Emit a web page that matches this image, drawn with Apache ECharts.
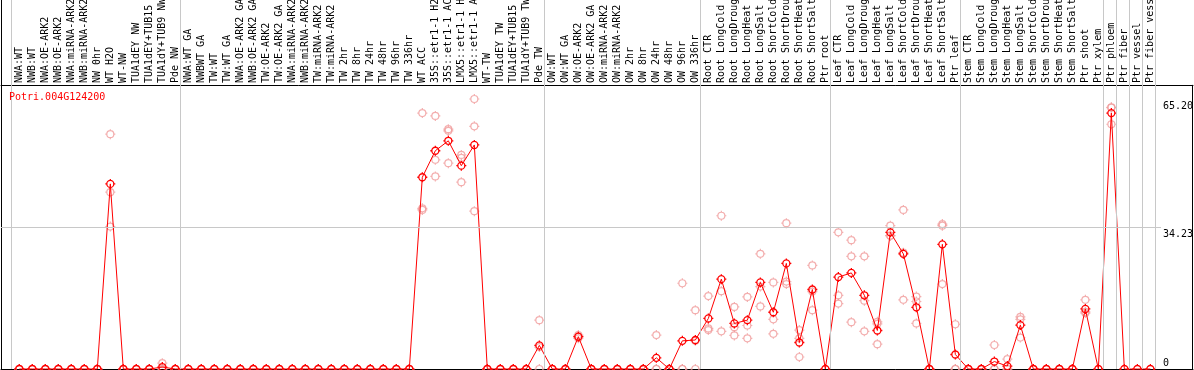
<!DOCTYPE html>
<html><head><meta charset="utf-8">
<script src="https://cdn.jsdelivr.net/npm/echarts@6/dist/echarts.min.js"></script>
<style>html,body{margin:0;padding:0;background:#fff}#c{width:1194px;height:370px}</style>
</head><body><div id="c"></div>
<script>
const geneName = 'Potri.004G124200';
const categories = [
 'NWA:WT','NWB:WT','NWA:OE-ARK2','NWB:OE-ARK2','NWA:miRNA-ARK2','NWB:miRNA-ARK2','NW 0hr','WT H2O','WT-NW','TUA1dEY NW','TUA1dEY+TUB15 NW','TUA1dY+TUB9 NW','Pde NW',
 'NWA:WT GA','NWBWT GA','TW:WT','TW:WT GA','NWA:OE-ARK2 GA','NWB:OE-ARK2 GA','TW:OE-ARK2','TW:OE-ARK2 GA','NWA:miRNA-ARK2','NWB:miRNA-ARK2','TW:miRNA-ARK2','TW:miRNA-ARK2',
 'TW 2hr','TW 8hr','TW 24hr','TW 48hr','TW 96hr','TW 336hr','WT ACC','35S::etr1-1 H2O','35S::etr1-1 ACC','LMX5::etr1-1 H2O','LMX5::etr1-1 ACC','WT-TW','TUA1dEY TW','TUA1dEY+TUB15 TW','TUA1dY+TUB9 TW','Pde TW',
 'OW:WT','OW:WT GA','OW:OE-ARK2','OW:OE-ARK2 GA','OW:miRNA-ARK2','OW:miRNA-ARK2','OW 2hr','OW 8hr','OW 24hr','OW 48hr','OW 96hr','OW 336hr',
 'Root CTR','Root LongCold','Root LongDrought','Root LongHeat','Root LongSalt','Root ShortCold','Root ShortDrought','Root ShortHeat','Root ShortSalt','Ptr root',
 'Leaf CTR','Leaf LongCold','Leaf LongDrought','Leaf LongHeat','Leaf LongSalt','Leaf ShortCold','Leaf ShortDrought','Leaf ShortHeat','Leaf ShortSalt','Ptr leaf',
 'Stem CTR','Stem LongCold','Stem LongDrought','Stem LongHeat','Stem LongSalt','Stem ShortCold','Stem ShortDrought','Stem ShortHeat','Stem ShortSalt','Ptr shoot','Ptr xylem',
 'Ptr phloem','Ptr fiber','Ptr vessel','Ptr fiber vessel'
];
const means = [
 0,0,0,0,0,0,0,44.7,0,0,0,0.47,0,
 0,0,0,0,0,0,0,0,0,0,0,0,0,0,0,0,0,0,46.3,52.7,55.1,49.1,54.1,0,0,0,0,5.7,
 0,0,7.8,0,0,0,0,0,2.7,0,6.8,7.0,
 12.2,21.7,11.0,11.8,20.9,13.7,25.5,6.4,19.2,0,
 22.2,23.2,17.8,9.3,33.0,27.8,14.9,0,30.1,3.5,
 0,0,1.8,0.7,10.6,0,0,0,0,14.5,0,
 61.8,0,0,0
];
const rep1 = [
 0,0,0,0,0,0,0,56.7,0,0,0,1.4,0,
 0,0,0,0,0,0,0,0,0,0,0,0,0,0,0,0,0,0,61.8,61.1,57.9,51.7,65.2,0,0,0,0,11.8,
 0,0,8.2,0,0,0,0,0,8.2,0,20.7,14.2,
 17.6,37.0,15.0,17.4,27.8,20.9,35.2,9.4,25.0,null,
 33.0,31.1,27.2,11.4,34.6,38.4,17.5,0,35.0,10.8,
 0,0,5.8,2.4,12.6,0,0,0,0,16.7,null,
 63.2,null,null,null
];
const rep2 = [
 0,0,0,0,0,0,0,42.7,0,0,0,0,0,
 0,0,0,0,0,0,0,0,0,0,0,0,0,0,0,0,0,0,38.8,50.5,57.5,51.0,58.6,0,0,0,0,5.3,
 0,0,7.8,0,0,0,0,0,0,0,0,6.8,
 9.8,18.8,10.1,10.5,19.9,12.0,21.1,7.4,18.7,null,
 17.8,27.2,16.5,10.9,32.2,28.1,16.3,0,34.6,0,
 0,0,0,0,12.0,0,0,0,0,13.8,null,
 63.1,null,null,null
];
const rep3 = [
 0,0,0,0,0,0,0,34.4,0,0,0,0,0,
 0,0,0,0,0,0,0,0,0,0,0,0,0,0,0,0,0,0,38.4,46.5,49.7,45.1,38.1,0,0,0,0,0,
 0,0,7.4,0,0,0,0,0,0,0,0,0,
 9.4,9.1,8.1,7.4,15.1,8.5,20.5,2.9,14.2,null,
 15.8,11.3,9.1,6.0,32.2,16.7,11.0,0,20.5,0,
 0,0,0,0,7.6,0,0,0,0,13.5,null,
 59.1,null,null,null
];
const yTickLabels = [65.20, 34.23];
const yZeroLabel = [0];
const referenceLine = 34.23;
const groupLastIndex = [-1, 12, 40, 52, 62, 72, 83, 84, 85, 86, 87];

// layout constants
const X_MIN = -1.408, X_MAX = 90.28;
const Y_MAX = 89.1;          // value at the very top of the grid
const Y_FRAME_TOP = 68.6;     // value where the plot frame top line sits
const SEP_SHIFT = 0.37;
const MONO = 'DejaVu Sans Mono';
const SYM = 'path://M0,-5L0,-3.5M0,3.5L0,5M-5,0L-3.5,0M3.5,0L5,0' +
  'M3.5,0C3.5,1.933,1.933,3.5,0,3.5C-1.933,3.5,-3.5,1.933,-3.5,0C-3.5,-1.933,-1.933,-3.5,0,-3.5C1.933,-3.5,3.5,-1.933,3.5,0Z';

const repData = [];
categories.forEach((c, i) => {
  [rep1[i], rep2[i], rep3[i]].forEach(v => { if (v !== null && v !== undefined) repData.push([i, v]); });
});
const meanData = means.map((v, i) => [i, v]);

const gray = '#c8c8c8';
const markLines = [];
groupLastIndex.forEach(g => markLines.push({ xAxis: g + SEP_SHIFT, lineStyle: { color: gray, width: 1, type: 'solid' } }));
markLines.push([{ coord: [X_MIN, referenceLine], lineStyle: { color: gray, width: 1, type: 'solid' } }, { coord: [87.82, referenceLine] }]);
markLines.push([{ coord: [X_MAX - 0.02, 0], lineStyle: { color: '#000', width: 1, type: 'solid' } }, { coord: [X_MAX - 0.02, Y_FRAME_TOP] }]);

const chart = echarts.init(document.getElementById('c'), null, { renderer: 'canvas' });
const yBase = { type: 'value', min: 0, max: Y_MAX, splitLine: { show: false }, axisTick: { show: false } };
chart.setOption({
  animation: false,
  backgroundColor: '#fff',
  title: { text: geneName, left: 9, top: 92, padding: 0,
    textStyle: { color: '#ff0000', fontSize: 10, fontWeight: 'normal', fontFamily: MONO } },
  grid: { left: 1, right: 1, top: 0, bottom: 1, containLabel: false, outerBoundsMode: 'none' },
  xAxis: [
    { type: 'value', position: 'bottom', min: X_MIN, max: X_MAX,
      axisLine: { show: true, onZero: false, lineStyle: { color: '#000', width: 1 } },
      axisTick: { show: false }, axisLabel: { show: false }, splitLine: { show: false } },
    { type: 'value', position: 'top', offset: -85, min: X_MIN, max: X_MAX,
      axisLine: { show: true, onZero: false, lineStyle: { color: '#000', width: 1 } },
      axisTick: { show: false }, splitLine: { show: false },
      axisLabel: { show: true, rotate: -90, margin: 2, fontSize: 10, fontFamily: MONO, color: '#000',
        customValues: categories.map((c, i) => i),
        formatter: v => categories[Math.round(v)] || '' } }
  ],
  yAxis: [
    Object.assign({}, yBase, { position: 'left', axisLine: { show: true, onZero: false, lineStyle: { color: '#000', width: 1 } }, axisLabel: { show: false } }),
    Object.assign({}, yBase, { position: 'right', offset: -30, axisLine: { show: false },
      axisLabel: { show: true, margin: 0, align: 'left', verticalAlign: 'top', padding: [2, 0, 0, 0], fontSize: 10, fontFamily: MONO, color: '#000',
        customValues: yTickLabels, formatter: v => Number(v).toFixed(2) } }),
    Object.assign({}, yBase, { position: 'right', offset: -30, axisLine: { show: false },
      axisLabel: { show: true, margin: 0, align: 'left', verticalAlign: 'bottom', padding: [0, 0, 1, 0], fontSize: 10, fontFamily: MONO, color: '#000',
        customValues: yZeroLabel, formatter: v => String(v) } })
  ],
  series: [
    { type: 'scatter', xAxisIndex: 0, yAxisIndex: 0, data: repData, symbol: SYM, symbolSize: 10,
      itemStyle: { color: 'rgba(0,0,0,0)', borderColor: '#f09a9a', borderWidth: 1.2 },
      emphasis: { disabled: true }, silent: true, z: 2,
      markLine: { silent: true, symbol: 'none', label: { show: false }, emphasis: { disabled: true }, data: markLines } },
    { type: 'line', xAxisIndex: 0, yAxisIndex: 0, data: meanData, symbol: SYM, symbolSize: 10, showAllSymbol: true,
      itemStyle: { color: 'rgba(0,0,0,0)', borderColor: '#ff0000', borderWidth: 1.3 },
      lineStyle: { color: '#ff0000', width: 1 }, emphasis: { disabled: true }, silent: true, z: 3, clip: false }
  ]
});
</script></body></html>
